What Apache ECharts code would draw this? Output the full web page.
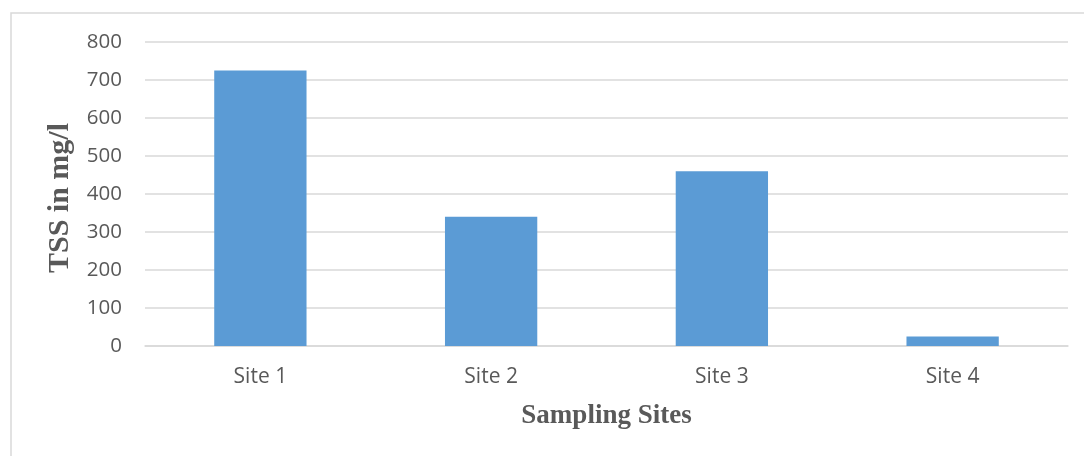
<!DOCTYPE html>
<html>
<head>
<meta charset="utf-8">
<style>
  html, body { margin: 0; padding: 0; background: #ffffff; }
  #chart { width: 1084px; height: 456px; }
</style>
<script src="https://cdn.jsdelivr.net/npm/echarts@6/dist/echarts.min.js"></script>
</head>
<body>
<div id="chart"></div>
<script>
// Total suspended solids measured at each sampling site
const sites = ['Site 1', 'Site 2', 'Site 3', 'Site 4'];
const tssValues = [725, 340, 460, 25];
const yTicks = { min: 0, max: 800, interval: 100 };
const yTitle = 'TSS in mg/l';
const xTitle = 'Sampling Sites';

const chart = echarts.init(document.getElementById('chart'), null, { renderer: 'canvas' });

const labelColor = '#595959';
const gridColor = '#d9d9d9';

chart.setOption({
  animation: false,
  backgroundColor: '#ffffff',
  grid: { left: 145, right: 16, top: 42, height: 304, containLabel: false },
  xAxis: {
    type: 'category',
    data: sites,
    axisLine: { show: true, lineStyle: { color: gridColor, width: 1.5 } },
    axisTick: { show: false },
    axisLabel: { color: labelColor, fontFamily: 'Open Sans', fontSize: 21, margin: 21 },
    splitLine: { show: false }
  },
  yAxis: {
    type: 'value',
    min: yTicks.min,
    max: yTicks.max,
    interval: yTicks.interval,
    axisLine: { show: false },
    axisTick: { show: false },
    axisLabel: { color: labelColor, fontFamily: 'Open Sans', fontSize: 20.5, margin: 23 },
    splitLine: { show: true, lineStyle: { color: gridColor, width: 1.5 } }
  },
  series: [{
    type: 'bar',
    data: tssValues,
    barWidth: '40%',
    itemStyle: { color: '#5b9bd5' }
  }],
  graphic: [
    {
      type: 'rect',
      shape: { x: 11, y: 13, width: 1100, height: 480 },
      style: { fill: 'none', stroke: gridColor, lineWidth: 1.5 },
      silent: true,
      z: -1
    },
    {
      type: 'text',
      x: 60,
      y: 198,
      rotation: Math.PI / 2,
      style: {
        text: yTitle,
        fill: labelColor,
        font: 'bold 30px "Liberation Serif", "Times New Roman", serif',
        textAlign: 'center',
        textVerticalAlign: 'middle'
      }
    },
    {
      type: 'text',
      x: 606.5,
      y: 416,
      style: {
        text: xTitle,
        fill: labelColor,
        font: 'bold 27px "Liberation Serif", "Times New Roman", serif',
        textAlign: 'center',
        textVerticalAlign: 'middle'
      }
    }
  ]
});
</script>
</body>
</html>
